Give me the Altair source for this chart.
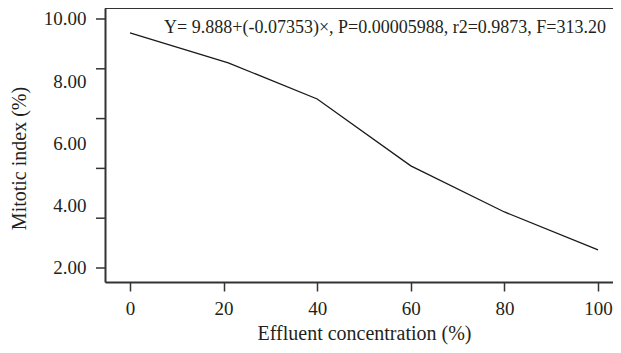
import altair as alt
import pandas as pd

# Data
concentration = [0, 21, 40, 60, 80, 100]
mitotic_index = [9.55, 8.59, 7.43, 5.28, 3.80, 2.58]

y_label_values = [10, 8, 6, 4, 2]
y_tick_marks = [10.0, 8.4, 6.8, 5.2, 3.6, 2.0]
x_tick_values = [0, 20, 40, 60, 80, 100]

annotation = "Y= 9.888+(-0.07353)×, P=0.00005988, r2=0.9873, F=313.20"
ann_x = [54.5]
ann_y = [9.71]

FONT = "Liberation Serif"
TXT = "#231f20"
DARK = "#333333"
W, H = 508, 274

df = pd.DataFrame({"c": concentration, "m": mitotic_index})
ticks_df = pd.DataFrame({"t": y_tick_marks})
ann_df = pd.DataFrame({"x": ann_x, "y": ann_y, "label": [annotation]})

xscale = alt.Scale(domain=[-5.34, 103.2], nice=False, zero=False)
yscale = alt.Scale(domain=[1.55, 10.353], nice=False, zero=False)

line = alt.Chart(df).mark_line(color="#1a1a1a", strokeWidth=1.3).encode(
    x=alt.X("c:Q", scale=xscale,
            axis=alt.Axis(values=x_tick_values, title="Effluent concentration (%)",
                          grid=False, tickSize=9, tickWidth=1.5, tickColor=DARK,
                          domainColor=DARK, domainWidth=2, labelPadding=8,
                          labelFont=FONT, labelFontSize=19, labelColor=TXT,
                          titleFont=FONT, titleFontSize=20, titleFontWeight="normal",
                          titleColor=TXT, titlePadding=5, titleX=259)),
    y=alt.Y("m:Q", scale=yscale,
            axis=alt.Axis(values=y_label_values, format=".2f", title="Mitotic index (%)",
                          grid=False, ticks=False, tickSize=0, domainColor=DARK,
                          domainWidth=2, labelPadding=19, labelFont=FONT,
                          labelFontSize=19, labelColor=TXT, titleFont=FONT,
                          titleFontSize=20, titleFontWeight="normal", titleColor=TXT,
                          titlePadding=14, titleY=150)),
)

yticks = alt.Chart(ticks_df).mark_rule(color=DARK, strokeWidth=1.5).encode(
    y=alt.Y("t:Q", scale=yscale),
    x=alt.value(-9),
    x2=alt.value(0),
)

top_border = alt.Chart(ticks_df.head(1)).mark_rule(color=DARK, strokeWidth=2).encode(
    y=alt.value(0), x=alt.value(0), x2=alt.value(W + 10)
)

text = alt.Chart(ann_df).mark_text(font=FONT, fontSize=18, color=TXT, align="center",
                                   baseline="middle").encode(
    x=alt.X("x:Q", scale=xscale), y=alt.Y("y:Q", scale=yscale), text="label:N"
)

chart = alt.layer(line, yticks, top_border, text).properties(
    width=W, height=H,
    autosize=alt.AutoSizeParams(type="none"),
    padding={"left": 97, "top": 0, "right": 0, "bottom": 63},
).configure_view(stroke=None, fill="#dcdcde").configure(background="white")

chart.save("out.html", embed_options={"renderer": "svg", "actions": False})
